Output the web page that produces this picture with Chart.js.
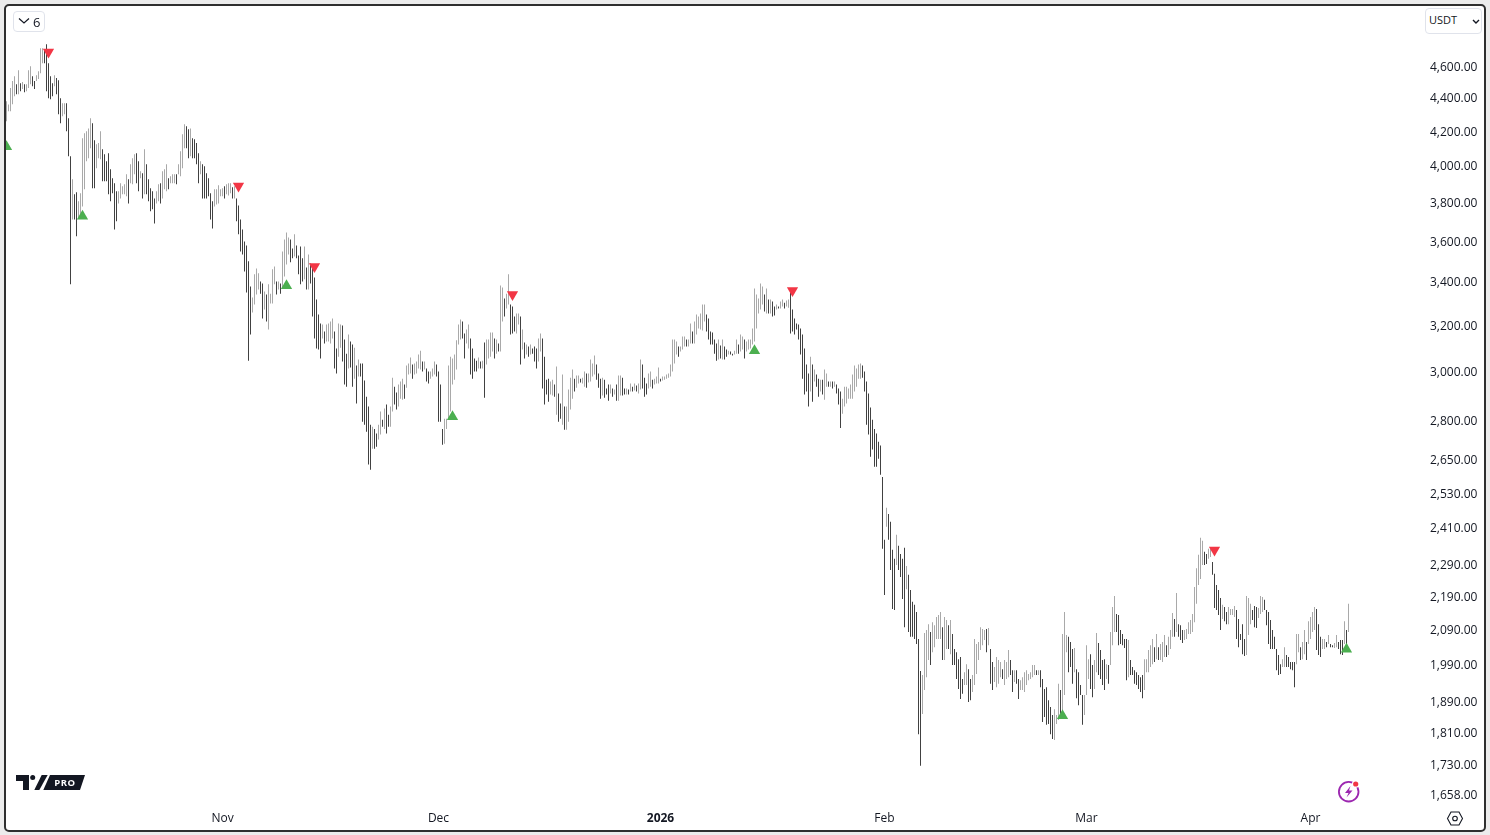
<!DOCTYPE html>
<html>
<head>
<meta charset="utf-8">
<title>ETHUSDT 6h</title>
<script src="https://cdn.jsdelivr.net/npm/chart.js@4"></script>
<style>
    html, body { margin: 0; height: 100%; background: #ececec; overflow: hidden; font-family: 'Open Sans', sans-serif; color: #131722; }
    #frame { position: absolute; left: 4px; top: 4px; width: 1482px; height: 828px; box-sizing: border-box; border: 2px solid #2f2f2f; border-radius: 5px; background: #fff; }
    #priceChart { position: absolute; left: 0; top: 0; }
    .btn { position: absolute; box-sizing: border-box; border: 1px solid #e0e3eb; border-radius: 4px; background: #fff; font-size: 11px; }
    .icon { position: absolute; }
</style>
</head>
<body>
<div id="frame"></div>
<canvas id="priceChart" width="1490" height="835"></canvas>

<div class="btn" style="left:13px;top:11px;width:32px;height:21px;">
    <svg class="icon" style="left:4px;top:5px" width="12" height="8"><path d="M1 1.5L6 6L11 1.5" fill="none" stroke="#131722" stroke-width="1.2"/></svg>
    <span style="position:absolute;left:19px;top:1px;font-size:13px;">6</span>
</div>
<div class="btn" style="left:1425px;top:8px;width:57px;height:26px;">
    <span style="position:absolute;left:3px;top:3px;">USDT</span>
    <svg class="icon" style="left:46px;top:10px" width="8" height="6"><path d="M1 1L4 4L7 1" fill="none" stroke="#131722" stroke-width="1.4"/></svg>
</div>

<svg class="icon" style="left:16px;top:775px" width="70" height="15">
    <path d="M0 0H13V15H7V6H0Z" fill="#131722"/>
    <circle cx="16.7" cy="2.6" r="2.5" fill="#131722"/>
    <path d="M18.3 15L25.7 0H31.7L23.3 15Z" fill="#131722"/>
    <path d="M27.3 15L34 0H69L64 15Z" fill="#131722"/>
    <text x="49" y="11" text-anchor="middle" font-family="'Open Sans', sans-serif" font-weight="700" font-size="9.5" letter-spacing="0.5" fill="#fff">PRO</text>
</svg>
<svg class="icon" style="left:1336px;top:779px" width="26" height="26">
    <circle cx="12.7" cy="12.7" r="9.8" fill="none" stroke="#9c27b0" stroke-width="1.8"/>
    <path d="M14.5 7L9 14H12.5L10.5 18.5L16.5 11.5H13Z" fill="#9c27b0"/>
    <circle cx="19.7" cy="5" r="3.8" fill="#fff"/>
    <circle cx="19.7" cy="5" r="2.6" fill="#f23645"/>
</svg>
<svg class="icon" style="left:1446px;top:810px" width="18" height="17">
    <path d="M1.5 8.5L5 2H13L16.5 8.5L13 15H5Z" fill="none" stroke="#131722" stroke-width="1.1"/>
    <circle cx="9" cy="8.5" r="2.3" fill="none" stroke="#131722" stroke-width="1.1"/>
</svg>

<script>
// 6h bars, ten per line
const highs = [
    4386,4366,4467,4511,4542,4492,4580,4498,4505,4492,
    4492,4580,4606,4542,4511,4549,4574,4723,4723,4716,
    4750,4626,4542,4498,4549,4530,4517,4404,4374,4374,
    4374,4283,4060,3932,3850,3861,3812,3855,4164,4193,
    4205,4222,4283,4253,4153,4130,4136,4205,4101,4072,
    4032,4078,3987,3938,3910,3866,3866,3910,3893,3904,
    3960,3932,4015,4049,4072,4078,4032,3976,3965,4101,
    4015,3932,3883,3866,3828,3866,3904,3910,3976,3987,
    4015,3938,3949,3960,3960,3960,4015,4089,4188,4247,
    4235,4217,4222,4164,4159,4136,4078,4032,4015,4004,
    3965,3938,3855,3812,3877,3877,3899,3877,3883,3893,
    3904,3910,3910,3888,3893,3828,3790,3717,3665,3604,
    3584,3505,3384,3332,3442,3470,3447,3408,3398,3360,
    3346,3394,3350,3466,3480,3408,3408,3398,3554,3614,
    3650,3624,3614,3569,3640,3584,3534,3579,3520,3579,
    3475,3539,3495,3490,3427,3323,3254,3213,3208,3177,
    3208,3213,3222,3236,3177,3102,3213,3208,3204,3142,
    3080,3164,3133,3120,3106,3029,3055,3038,3038,2966,
    2900,2860,2788,2780,2772,2754,2788,2840,2808,2852,
    2868,2828,2860,2978,2941,2917,2950,2962,2974,2950,
    3029,3038,3063,3034,3038,3046,3076,3093,3046,3046,
    3017,3004,3004,3017,3046,3034,3004,2950,2772,2812,
    2812,3029,3067,3059,3076,3138,3208,3231,3222,3168,
    3186,3208,3146,3102,3059,3050,3063,3046,3050,3129,
    3142,3142,3173,3173,3146,3142,3124,3389,3379,3327,
    3350,3442,3299,3290,3245,3258,3258,3245,3186,3129,
    3120,3111,3120,3102,3111,3102,3146,3168,3146,3067,
    2970,2974,2962,2970,2950,3025,2913,2872,2991,2860,
    2860,2929,2978,3012,2974,2987,2987,2974,2978,3004,
    2996,2996,3055,3038,3072,3034,2996,2974,2978,2970,
    2933,2950,2950,2933,2929,2950,2987,2987,2978,2933,
    2933,2929,2954,2941,2954,2946,2954,3055,3034,2978,
    2954,2996,3004,2970,2974,2983,3021,2974,2983,2983,
    2991,2996,3034,3142,3142,3133,3111,3111,3155,3155,
    3142,3142,3213,3177,3222,3254,3245,3258,3299,3299,
    3254,3236,3177,3173,3142,3124,3142,3115,3142,3111,
    3098,3093,3089,3080,3093,3142,3120,3164,3155,3142,
    3133,3142,3142,3191,3374,3346,3327,3398,3384,3346,
    3374,3323,3323,3313,3290,3299,3290,3313,3323,3308,
    3318,3323,3360,3276,3236,3213,3208,3191,3164,3102,
    3034,2996,3067,3034,3012,2991,2974,2970,2970,3012,
    2996,2962,2962,2962,2962,2950,2933,2921,2892,2941,
    2941,2933,2950,2991,3029,3017,3034,3038,3029,3004,
    2962,2913,2856,2808,2772,2754,2723,2708,2592,2374,
    2482,2461,2434,2341,2311,2390,2354,2327,2311,2347,
    2288,2260,2212,2176,2167,2145,2066,1975,1964,2083,
    2092,2109,2086,2115,2106,2130,2136,2145,2100,2130,
    2121,2106,2121,2080,2037,2028,2008,2014,1953,1972,
    1994,1980,1953,1964,2066,2051,2057,2100,2095,2092,
    2095,2098,2037,2000,1986,2014,2006,2000,1980,2006,
    2000,2034,2006,1977,1977,1977,1953,1950,1958,1972,
    1977,1967,1972,1992,1992,1977,1977,1977,1953,1926,
    1931,1896,1878,1857,1872,1857,1940,1923,2080,2145,
    2077,2072,2057,2037,2040,1980,1972,1937,1910,1910,
    2048,2008,2022,1992,2006,2083,2054,2034,2006,2008,
    1994,1992,2086,2160,2194,2139,2136,2092,2080,2066,
    2066,2063,2006,1986,1977,1972,1964,1958,1964,2008,
    2008,2034,2048,2066,2042,2080,2042,2051,2057,2077,
    2048,2072,2092,2142,2124,2203,2109,2106,2092,2092,
    2095,2115,2121,2139,2222,2281,2324,2380,2370,2334,
    2327,2344,2344,2301,2263,2228,2212,2188,2167,2160,
    2145,2160,2154,2154,2163,2151,2124,2080,2109,2066,
    2194,2188,2170,2151,2163,2160,2157,2194,2191,2182,
    2151,2145,2121,2092,2072,2037,2020,1994,2008,2042,
    2020,2014,2000,2000,2000,2080,2080,2042,2057,2092,
    2057,2118,2130,2145,2160,2154,2109,2072,2066,2066,
    2057,2077,2051,2048,2054,2077,2057,2063,2063,2118,2092,2170
];
const lows = [
    4265,4325,4325,4368,4417,4429,4429,4448,4461,4442,
    4448,4467,4492,4479,4461,4511,4524,4561,4626,4626,
    4448,4404,4398,4417,4479,4429,4307,4253,4295,4307,
    4205,4060,3394,3717,3717,3630,3722,3722,3785,3877,
    4032,4049,4107,3883,3883,3993,4049,4043,3921,3921,
    3921,3850,3812,3855,3665,3707,3801,3828,3850,3850,
    3839,3801,3910,3904,3960,3910,3866,3938,3828,3850,
    3850,3812,3759,3770,3696,3801,3812,3801,3828,3877,
    3866,3877,3910,3910,3910,3904,3960,3949,3993,4107,
    4107,4049,4060,4049,4049,4015,3910,3960,3828,3828,
    3828,3839,3717,3670,3785,3796,3801,3839,3839,3828,
    3850,3844,3855,3828,3828,3707,3640,3554,3539,3456,
    3355,3050,3164,3263,3299,3346,3369,3350,3236,3276,
    3222,3186,3304,3304,3394,3346,3369,3350,3374,3432,
    3490,3539,3500,3520,3529,3520,3442,3394,3408,3418,
    3369,3369,3398,3245,3146,3102,3098,3059,3146,3124,
    3133,3133,3124,3146,3017,2996,3067,3106,3046,2950,
    2941,3017,3021,2941,2974,2872,2983,2983,2800,2788,
    2761,2637,2618,2696,2696,2704,2731,2750,2780,2772,
    2754,2780,2780,2840,2868,2848,2860,2892,2888,2892,
    2937,2991,2996,2974,2991,2996,3017,3012,3004,3012,
    2962,2954,2974,2983,2991,2983,2800,2800,2711,2715,
    2772,2812,2840,2950,2970,3012,3120,3142,3146,3059,
    3124,3102,2991,2974,3004,3004,3017,3017,3017,2896,
    3034,3059,3067,3089,3059,3080,3089,3089,3222,3245,
    3281,3299,3164,3168,3177,3168,3208,3034,3098,3059,
    3076,3067,3076,3080,3046,3017,3046,3089,2933,2868,
    2909,2880,2909,2905,2900,2828,2800,2812,2788,2769,
    2769,2800,2848,2892,2921,2937,2954,2958,2954,2941,
    2937,2958,2962,2983,2991,2970,2937,2892,2905,2896,
    2909,2884,2913,2900,2909,2884,2884,2905,2905,2909,
    2909,2909,2921,2921,2925,2921,2913,2929,2933,2900,
    2909,2933,2941,2933,2950,2954,2954,2962,2966,2970,
    2974,2978,2983,3004,3038,3076,3067,3089,3098,3111,
    3111,3111,3124,3124,3124,3164,3191,3186,3182,3222,
    3177,3142,3120,3120,3080,3050,3055,3059,3055,3055,
    3067,3076,3076,3072,3076,3080,3080,3089,3098,3059,
    3089,3098,3102,3120,3133,3191,3258,3276,3299,3267,
    3258,3258,3258,3245,3249,3276,3281,3281,3290,3281,
    3290,3285,3168,3177,3164,3186,3142,3076,2974,2909,
    2921,2860,2921,2880,2962,2941,2900,2921,2909,2888,
    2941,2941,2941,2933,2941,2913,2868,2776,2832,2860,
    2872,2892,2892,2892,2921,2941,2974,2974,2978,2921,
    2788,2750,2666,2693,2629,2629,2659,2600,2344,2197,
    2417,2374,2275,2154,2151,2291,2275,2253,2185,2100,
    2215,2086,2072,2072,2066,2051,1808,1730,1860,1923,
    1958,2006,1992,2028,2042,2066,2066,2066,2006,2006,
    2037,2037,2022,1992,1992,1953,1926,1899,1913,1937,
    1937,1891,1896,1918,1937,1967,2006,2034,2048,2063,
    2028,2048,1940,1923,1945,1931,1940,1958,1953,1937,
    1953,1958,1964,1918,1945,1940,1899,1923,1923,1918,
    1937,1950,1953,1958,1964,1964,1964,1931,1839,1852,
    1832,1834,1808,1796,1793,1834,1844,1847,1865,1910,
    2028,1972,1986,1940,1972,1901,1883,1910,1832,1857,
    1910,1953,1926,1904,1926,1972,1964,1953,1937,1923,
    1953,1940,1992,2048,2086,2086,2048,2051,2048,2040,
    1950,1958,1964,1964,1940,1937,1926,1918,1901,1923,
    1972,1972,1986,1994,2000,2008,2006,2006,2000,2014,
    2014,2020,2037,2072,2072,2086,2072,2063,2054,2063,
    2066,2080,2080,2086,2115,2170,2228,2247,2291,2291,
    2294,2311,2317,2260,2157,2151,2136,2092,2124,2118,
    2109,2109,2136,2136,2130,2066,2042,2063,2022,2017,
    2020,2077,2109,2121,2100,2098,2127,2139,2145,2151,
    2106,2051,2037,2037,2037,1977,1964,1967,1986,1986,
    1986,1986,1980,1977,1931,1994,2028,2006,2008,2022,
    2006,2051,2066,2086,2092,2034,2020,2014,2037,2037,
    2042,2051,2042,2042,2040,2042,2037,2022,2020,2051,2048,2086
];

// signal markers: bar index and price
const buyIndex  = [0, 38, 140, 223, 374, 528, 670];
const buyPrice  = [4115, 3733, 3387, 2820, 3093, 1855, 2036];
const sellIndex = [21, 116, 154, 253, 393, 604];
const sellPrice = [4698, 3895, 3480, 3346, 3365, 2340];

const priceTicks = [4600, 4400, 4200, 4000, 3800, 3600, 3400, 3200, 3000, 2800, 2650, 2530, 2410, 2290, 2190, 2090, 1990, 1890, 1810, 1730, 1658];
const timeTicks  = [108, 216, 327, 439, 540, 652];
const timeLabels = ['Nov', 'Dec', '2026', 'Feb', 'Mar', 'Apr'];

const upColor   = '#a9a9a9';
const downColor = '#414141';
const buyColor  = '#4caf50';
const sellColor = '#f23645';

const bars = highs.map((h, i) => ({ x: i, y: [lows[i], h] }));
const barColors = highs.map((h, i) => {
    if (i === 0) return upColor;
    return h + lows[i] >= highs[i - 1] + lows[i - 1] ? upColor : downColor;
});

new Chart(document.getElementById('priceChart').getContext('2d'), {
    type: 'bar',
    data: {
        datasets: [
            {
                label: 'Buy',
                type: 'scatter',
                data: buyIndex.map((x, i) => ({ x, y: buyPrice[i] })),
                pointStyle: 'triangle',
                pointRadius: 6.5,
                pointBackgroundColor: buyColor,
                pointBorderWidth: 0,
                clip: 0,
                order: 0,
            },
            {
                label: 'Sell',
                type: 'scatter',
                data: sellIndex.map((x, i) => ({ x, y: sellPrice[i] })),
                pointStyle: 'triangle',
                pointRotation: 180,
                pointRadius: 6.5,
                pointBackgroundColor: sellColor,
                pointBorderWidth: 0,
                clip: 0,
                order: 0,
            },
            {
                label: 'Price',
                data: bars,
                backgroundColor: barColors,
                barThickness: 1,
                inflateAmount: 0,
                borderWidth: 0,
                order: 1,
            },
        ],
    },
    options: {
        responsive: false,
        animation: false,
        events: [],
        layout: { autoPadding: false, padding: { left: 6, top: 0, bottom: 4, right: 0 } },
        plugins: { legend: { display: false }, tooltip: { enabled: false } },
        scales: {
            x: {
                type: 'linear',
                offset: false,
                bounds: 'data',
                // 2px per bar, lands each bar on a whole pixel column
                min: -0.25,
                max: 708.75,
                grid: { display: false, drawTicks: false },
                border: { display: false },
                afterBuildTicks: axis => { axis.ticks = timeTicks.map(value => ({ value })); },
                afterFit: axis => { axis.height = 25; },
                ticks: {
                    autoSkip: false,
                    maxRotation: 0,
                    padding: 5,
                    color: '#131722',
                    font: ctx => ({
                        family: "'Open Sans', sans-serif",
                        size: 12,
                        weight: ctx.tick && ctx.tick.value === timeTicks[2] ? '700' : '400',
                    }),
                    callback: value => timeLabels[timeTicks.indexOf(value)],
                },
            },
            y: {
                type: 'logarithmic',
                position: 'right',
                bounds: 'data',
                min: 1635,
                max: 4961,
                grid: { display: false, drawTicks: false },
                border: { display: false },
                afterBuildTicks: axis => { axis.ticks = priceTicks.map(value => ({ value })); },
                afterFit: axis => { axis.width = 66; },
                ticks: {
                    autoSkip: false,
                    padding: 6,
                    color: '#131722',
                    font: { family: "'Open Sans', sans-serif", size: 12 },
                    callback: value => value.toLocaleString('en-US', { minimumFractionDigits: 2, maximumFractionDigits: 2 }),
                },
            },
        },
    },
});
</script>
</body>
</html>
